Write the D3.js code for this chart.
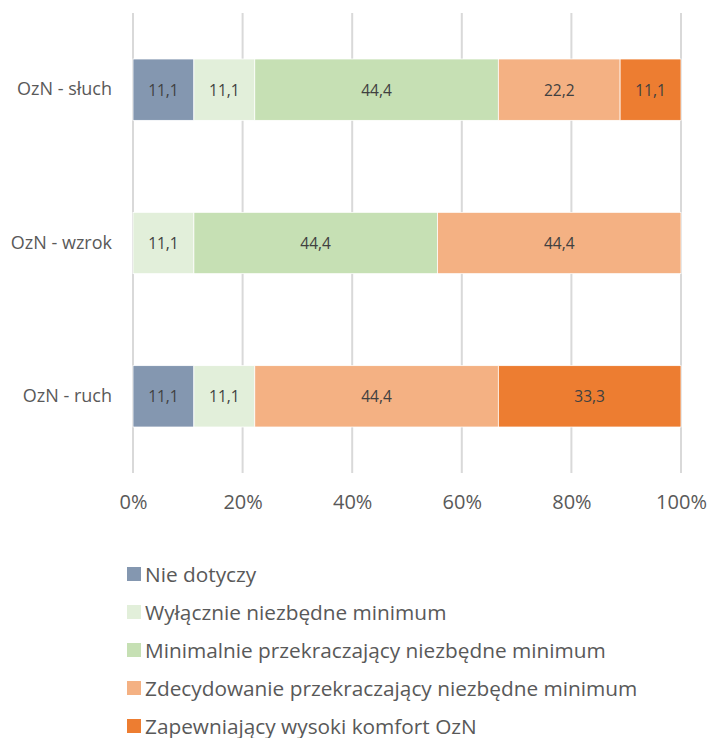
<!DOCTYPE html>
<html><head><meta charset="utf-8">
<script src="https://cdn.jsdelivr.net/npm/d3@7"></script>
<style>body{margin:0;background:#fff;} text{font-family:"Open Sans", sans-serif;}</style>
</head><body>
<svg id="chart" width="710" height="738"></svg>
<script>
const categories = ["OzN - słuch", "OzN - wzrok", "OzN - ruch"];
const seriesNames = ["Nie dotyczy", "Wyłącznie niezbędne minimum", "Minimalnie przekraczający niezbędne minimum", "Zdecydowanie przekraczający niezbędne minimum", "Zapewniający wysoki komfort OzN"];
const seriesColors = ["#8497B0", "#E2EFDA", "#C6E0B4", "#F4B183", "#ED7D31"];
const nieDotyczy = [11.1, 0, 11.1];
const wylacznie = [11.1, 11.1, 11.1];
const minimalnie = [44.4, 44.4, 0];
const zdecydowanie = [22.2, 44.4, 44.4];
const zapewniajacy = [11.1, 0, 33.3];
const tickValues = [0, 0.2, 0.4, 0.6, 0.8, 1.0];
const tickLabels = ["0%", "20%", "40%", "60%", "80%", "100%"];

const seriesValues = [nieDotyczy, wylacznie, minimalnie, zdecydowanie, zapewniajacy];
const svg = d3.select("#chart");
const x = d3.scaleLinear().domain([0, 1]).range([133, 681]);
const y = d3.scaleBand().domain(categories).range([13, 473]).paddingInner(0.6).paddingOuter(0.3);

svg.append("g").selectAll("line").data(tickValues).join("line")
  .attr("x1", d => x(d)).attr("x2", d => x(d)).attr("y1", 13).attr("y2", 473)
  .attr("stroke", "#D9D9D9").attr("stroke-width", 2);

const rows = categories.map((c, i) => {
  const o = {cat: c};
  seriesNames.forEach((s, j) => o[s] = seriesValues[j][i]);
  return o;
});
const stack = d3.stack().keys(seriesNames)
  .value((d, k) => d[k] / d3.sum(seriesNames, s => d[s]));
const stacked = stack(rows);

const g = svg.append("g");
stacked.forEach((layer, j) => {
  const lg = g.append("g");
  layer.forEach((seg, i) => {
    const v = seriesValues[j][i];
    if (!v) return;
    lg.append("rect")
      .attr("x", x(seg[0])).attr("width", x(seg[1]) - x(seg[0]))
      .attr("y", y(categories[i])).attr("height", y.bandwidth())
      .attr("fill", seriesColors[j]).attr("stroke", "#fff").attr("stroke-width", 0.75);
    lg.append("text")
      .attr("x", (x(seg[0]) + x(seg[1])) / 2)
      .attr("y", y(categories[i]) + y.bandwidth() / 2)
      .attr("text-anchor", "middle").attr("dominant-baseline", "central")
      .attr("font-size", 15.5).attr("fill", "#404040")
      .text(d3.format(".1f")(v).replace(".", ","));
  });
});

const yAxis = svg.append("g").attr("transform", "translate(133,0)")
  .call(d3.axisLeft(y).tickSize(0).tickPadding(21));
yAxis.select(".domain").remove();
yAxis.selectAll("text").attr("font-size", 18).attr("fill", "#595959").style("font-family", "'Open Sans', sans-serif");

const xAxis = svg.append("g").attr("transform", "translate(0,473)")
  .call(d3.axisBottom(x).tickValues(tickValues).tickFormat((d, i) => tickLabels[i]).tickSize(0).tickPadding(22));
xAxis.select(".domain").remove();
xAxis.selectAll("text").attr("font-size", 20).attr("fill", "#595959").style("font-family", "'Open Sans', sans-serif");

const leg = svg.append("g");
seriesNames.forEach((s, j) => {
  const yy = 574 + j * 38;
  leg.append("rect").attr("x", 127).attr("y", yy - 7).attr("width", 14).attr("height", 14).attr("fill", seriesColors[j]);
  leg.append("text").attr("x", 145).attr("y", yy).attr("dominant-baseline", "central")
    .attr("font-size", 20.8).attr("fill", "#595959").text(s);
});
</script>
</body></html>
